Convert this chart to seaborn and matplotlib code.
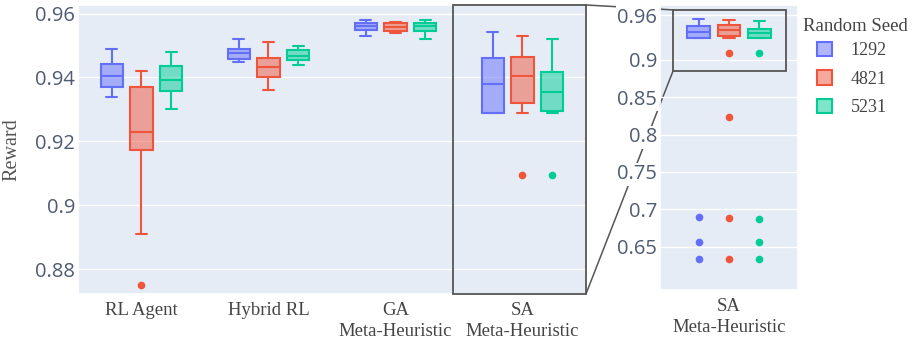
import pandas as pd
import seaborn as sns
import matplotlib.pyplot as plt
from matplotlib.colors import to_rgba
from matplotlib.patches import Rectangle, ConnectionPatch, Patch
from matplotlib.transforms import blended_transform_factory

# categories / seeds
methods = ["RL Agent", "Hybrid RL", "GA\nMeta-Heuristic", "SA\nMeta-Heuristic"]
seeds = ["1292", "4821", "5231"]
colors = ["#636EFA", "#EF553B", "#00CC96"]

# rewards per run
rl_agent = {
    "1292": [0.9339, 0.9352, 0.9369, 0.9388, 0.9405, 0.9421, 0.9442, 0.9463, 0.9489],
    "4821": [0.8749, 0.8910, 0.9173, 0.9204, 0.9230, 0.9301, 0.9371, 0.9398, 0.9420],
    "5231": [0.9300, 0.9331, 0.9358, 0.9377, 0.9391, 0.9410, 0.9435, 0.9456, 0.9481],
}
hybrid_rl = {
    "1292": [0.9449, 0.9453, 0.9459, 0.9468, 0.9476, 0.9483, 0.9490, 0.9503, 0.9520],
    "4821": [0.9360, 0.9381, 0.9402, 0.9418, 0.9432, 0.9447, 0.9461, 0.9484, 0.9510],
    "5231": [0.9439, 0.9446, 0.9454, 0.9461, 0.9468, 0.9477, 0.9486, 0.9493, 0.9500],
}
ga_meta = {
    "1292": [0.9530, 0.9541, 0.9549, 0.9555, 0.9560, 0.9566, 0.9571, 0.9576, 0.9580],
    "4821": [0.9540, 0.9544, 0.9547, 0.9553, 0.9559, 0.9566, 0.9572, 0.9572, 0.9573],
    "5231": [0.9520, 0.9535, 0.9547, 0.9554, 0.9560, 0.9565, 0.9570, 0.9575, 0.9580],
}
sa_meta = {
    "1292": [0.6335, 0.6559, 0.6894, 0.9288, 0.9310, 0.9345, 0.9378, 0.9405, 0.9432,
             0.9460, 0.9490, 0.9515, 0.9542],
    "4821": [0.6335, 0.6890, 0.8230, 0.9095, 0.9289, 0.9319, 0.9335, 0.9352, 0.9370,
             0.9388, 0.9404, 0.9415, 0.9428, 0.9440, 0.9452, 0.9464, 0.9478, 0.9492,
             0.9505, 0.9518, 0.9531],
    "5231": [0.6335, 0.6560, 0.6875, 0.9095, 0.9290, 0.9295, 0.9306, 0.9318, 0.9330,
             0.9342, 0.9355, 0.9366, 0.9378, 0.9390, 0.9403, 0.9416, 0.9436, 0.9458,
             0.9480, 0.9500, 0.9520],
}

left_ticks = [0.88, 0.9, 0.92, 0.94, 0.96]
right_ticks = [0.65, 0.7, 0.75, 0.8, 0.85, 0.9, 0.96]

rows = []
for method, runs in zip(methods, [rl_agent, hybrid_rl, ga_meta, sa_meta]):
    for seed in seeds:
        for r in runs[seed]:
            rows.append((method, seed, r))
df = pd.DataFrame(rows, columns=["method", "seed", "reward"])

sns.set_theme(style="darkgrid", rc={"axes.facecolor": "#E5ECF6", "grid.color": "white",
                                    "grid.linewidth": 1.0})
tick_font = ["Open Sans", "DejaVu Sans"]
serif = ["Liberation Serif", "DejaVu Serif"]
tick_col = "#4f5b73"

fig = plt.figure(figsize=(9.14, 3.43), dpi=100)
ax1 = fig.add_axes([0.0853, 0.1429, 0.5558, 0.8426])
ax2 = fig.add_axes([0.7221, 0.1545, 0.1510, 0.8310])


def paint(ax):
    # plotly look: solid outline, half-transparent fill
    for cont, c in zip(ax.containers, colors):
        for b in cont.boxes:
            b.set_facecolor(to_rgba(c, 0.5))
            b.set_edgecolor(c)
        for ln in list(cont.medians) + list(cont.whiskers) + list(cont.caps):
            ln.set_color(c)
        for f in cont.fliers:
            f.set_markerfacecolor(c)
            f.set_markeredgecolor(c)


box_kw = dict(x="method", y="reward", hue="seed", hue_order=seeds, palette=colors,
              saturation=1, gap=0.25, linewidth=1.5, fliersize=4.5,
              flierprops=dict(marker="o"), legend=False)

sns.boxplot(data=df, order=methods, width=0.7, ax=ax1, **box_kw)
sns.boxplot(data=df[df["method"] == methods[3]], order=[methods[3]], width=0.66,
            ax=ax2, **box_kw)
paint(ax1)
paint(ax2)

ax1.set_ylim(0.8722, 0.9627)
ax2.set_ylim(0.592, 0.9736)
ax1.set_yticks(left_ticks, [f"{t:g}" for t in left_ticks])
ax2.set_yticks(right_ticks, [f"{t:g}" for t in right_ticks])

for ax in (ax1, ax2):
    ax.set_xlabel("")
    ax.grid(axis="x", visible=False)
    ax.tick_params(length=0, pad=2)
    for lab in ax.get_yticklabels():
        lab.set_family(tick_font)
        lab.set_fontsize(14.5)
        lab.set_color(tick_col)
    for lab in ax.get_xticklabels():
        lab.set_family(serif)
        lab.set_fontsize(13.5)
        lab.set_color("#444444")
        lab.set_linespacing(1.3)
    ax.tick_params(axis="x", pad=6)
ax2.set_ylabel("")
ax1.set_ylabel("Reward", family=serif, fontsize=14.5, color="#555555", labelpad=10)

# tick labels of the zoom panel sit above the connector lines
for lab in ax2.get_yticklabels():
    lab.set_bbox(dict(facecolor="white", edgecolor="none", pad=1))

# zoom frames and connectors
edge = "#555555"
ax1.add_patch(Rectangle((2.45, 0), 1.05, 1, fill=False, edgecolor=edge, lw=1.3,
                        transform=blended_transform_factory(ax1.transData, ax1.transAxes),
                        clip_on=False, zorder=5))
ax2.add_patch(Rectangle((-0.406, 0.885), 0.819, 0.082, fill=False, edgecolor=edge,
                        lw=1.3, zorder=5))
for ya, yb in [(1, 0.967), (0, 0.885)]:
    con = ConnectionPatch(xyA=(1, ya), coordsA=ax1.transAxes, xyB=(-0.406, yb),
                          coordsB=ax2.transData, color=edge, lw=1.1, zorder=0.4)
    con.set_clip_on(False)
    ax2.add_artist(con)

# legend
fig.text(803 / 914, 1 - 31 / 343, "Random Seed", family=serif, fontsize=13.5,
         color="#444444", va="baseline")
handles = [Patch(facecolor=to_rgba(c, 0.5), edgecolor=c, lw=1.5, label=s)
           for c, s in zip(colors, seeds)]
leg = fig.legend(handles=handles, loc="upper left", bbox_to_anchor=(817 / 914, 1 - 42 / 343),
                 frameon=False, borderpad=0, borderaxespad=0, handlelength=0.85,
                 handleheight=0.85, labelspacing=0.6, handletextpad=1.0,
                 prop={"family": serif, "size": 13})
for t in leg.get_texts():
    t.set_color("#444444")

fig.savefig("out.png", dpi=100)
